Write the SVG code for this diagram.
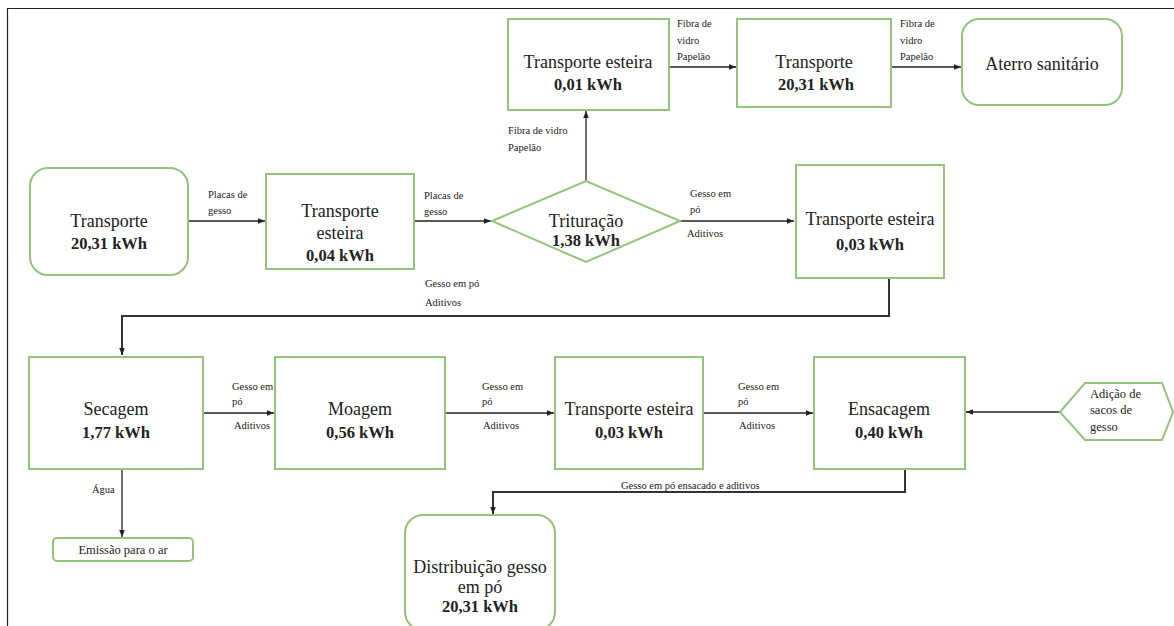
<svg xmlns="http://www.w3.org/2000/svg" width="1174" height="626" viewBox="0 0 1174 626" font-family="Liberation Serif, DejaVu Serif, serif">
  <defs>
    <marker id="arrow" viewBox="0 0 10 10" refX="10" refY="5" markerWidth="7" markerHeight="7" orient="auto-start-reverse" markerUnits="userSpaceOnUse">
      <path d="M0,1 L10,5 L0,9 z" fill="#222"/>
    </marker>
    <style>
      .box { fill: #fff; stroke: #93c47d; stroke-width: 2; }
      .conn { fill: none; stroke: #222; stroke-width: 1.3; }
      .conn-thick { fill: none; stroke: #333; stroke-width: 2; }
      text { fill: #222; }
      .t { font-size: 18px; text-anchor: middle; }
      .b { font-size: 16.5px; font-weight: bold; text-anchor: middle; }
      .lbl { font-size: 10.5px; }
      .small { font-size: 12.5px; }
    </style>
  </defs>

  <rect width="1174" height="626" fill="#fff"/>

  <!-- page frame -->
  <path d="M7.5,626 V8.5 H1174" fill="none" stroke="#222" stroke-width="1.2"/>

  <!-- connectors -->
  <g id="connectors">
    <line class="conn" x1="188" y1="221" x2="265" y2="221" marker-end="url(#arrow)"/>
    <line class="conn" x1="414" y1="221" x2="491" y2="221" marker-end="url(#arrow)"/>
    <line class="conn" x1="586" y1="181" x2="586" y2="111" marker-end="url(#arrow)"/>
    <line class="conn" x1="670" y1="67" x2="736" y2="67" marker-end="url(#arrow)"/>
    <line class="conn" x1="891" y1="67" x2="961" y2="67" marker-end="url(#arrow)"/>
    <line class="conn" x1="680" y1="221" x2="794" y2="221" marker-end="url(#arrow)"/>
    <polyline class="conn-thick" points="889,278 889,316 122,316 122,355" marker-end="url(#arrow)"/>
    <line class="conn" x1="203" y1="413" x2="274" y2="413" marker-end="url(#arrow)"/>
    <line class="conn" x1="445" y1="413" x2="554" y2="413" marker-end="url(#arrow)"/>
    <line class="conn" x1="703" y1="413" x2="813" y2="413" marker-end="url(#arrow)"/>
    <line class="conn" x1="1060" y1="412" x2="966" y2="412" marker-end="url(#arrow)"/>
    <line class="conn" x1="122" y1="469" x2="122" y2="537" marker-end="url(#arrow)"/>
    <polyline class="conn-thick" points="905,469 905,492 493,492 493,514" marker-end="url(#arrow)"/>

    <!-- flow labels -->
    <text class="lbl" x="208" y="198">Placas de</text>
    <text class="lbl" x="208" y="214">gesso</text>
    <text class="lbl" x="424" y="199">Placas de</text>
    <text class="lbl" x="424" y="215">gesso</text>
    <text class="lbl" x="508" y="134">Fibra de vidro</text>
    <text class="lbl" x="508" y="151">Papelão</text>
    <text class="lbl" x="677" y="27">Fibra de</text>
    <text class="lbl" x="677" y="44">vidro</text>
    <text class="lbl" x="677" y="60">Papelão</text>
    <text class="lbl" x="900" y="27">Fibra de</text>
    <text class="lbl" x="900" y="44">vidro</text>
    <text class="lbl" x="900" y="60">Papelão</text>
    <text class="lbl" x="690" y="197">Gesso em</text>
    <text class="lbl" x="690" y="213">pó</text>
    <text class="lbl" x="687" y="237">Aditivos</text>
    <text class="lbl" x="425" y="287">Gesso em pó</text>
    <text class="lbl" x="425" y="306">Aditivos</text>
    <text class="lbl" x="232" y="390">Gesso em</text>
    <text class="lbl" x="232" y="405">pó</text>
    <text class="lbl" x="234" y="429">Aditivos</text>
    <text class="lbl" x="482" y="390">Gesso em</text>
    <text class="lbl" x="482" y="405">pó</text>
    <text class="lbl" x="483" y="429">Aditivos</text>
    <text class="lbl" x="738" y="390">Gesso em</text>
    <text class="lbl" x="738" y="405">pó</text>
    <text class="lbl" x="739" y="429">Aditivos</text>
    <text class="lbl" x="92" y="493">Água</text>
    <text class="lbl" x="621" y="489">Gesso em pó ensacado e aditivos</text>
  </g>

  <!-- top row -->
  <g id="transporte-esteira-1">
    <rect class="box" x="508" y="19" width="161" height="91"/>
    <text class="t" x="588" y="68">Transporte esteira</text>
    <text class="b" x="588" y="90">0,01 kWh</text>
  </g>
  <g id="transporte-2">
    <rect class="box" x="737" y="19" width="154" height="88"/>
    <text class="t" x="814" y="68">Transporte</text>
    <text class="b" x="816" y="90">20,31 kWh</text>
  </g>
  <g id="aterro">
    <rect class="box" x="962" y="19" width="160" height="86" rx="17"/>
    <text class="t" x="1042" y="70">Aterro sanitário</text>
  </g>

  <!-- middle row -->
  <g id="transporte-1">
    <rect class="box" x="30" y="168" width="158" height="107" rx="18"/>
    <text class="t" x="109" y="227">Transporte</text>
    <text class="b" x="109" y="249">20,31 kWh</text>
  </g>
  <g id="transporte-esteira-2">
    <rect class="box" x="266" y="174" width="148" height="95"/>
    <text class="t" x="340" y="217">Transporte</text>
    <text class="t" x="340" y="239">esteira</text>
    <text class="b" x="340" y="261">0,04 kWh</text>
  </g>
  <g id="trituracao">
    <polygon class="box" points="492,221 586,181 680,221 586,262"/>
    <text class="t" x="586" y="227">Trituração</text>
    <text class="b" x="586" y="246">1,38 kWh</text>
  </g>
  <g id="transporte-esteira-3">
    <rect class="box" x="796" y="165" width="148" height="113"/>
    <text class="t" x="870" y="225">Transporte esteira</text>
    <text class="b" x="870" y="250">0,03 kWh</text>
  </g>

  <!-- bottom row -->
  <g id="secagem">
    <rect class="box" x="29" y="357" width="174" height="112"/>
    <text class="t" x="116" y="415">Secagem</text>
    <text class="b" x="116" y="438">1,77 kWh</text>
  </g>
  <g id="moagem">
    <rect class="box" x="275" y="357" width="170" height="112"/>
    <text class="t" x="360" y="415">Moagem</text>
    <text class="b" x="360" y="438">0,56 kWh</text>
  </g>
  <g id="transporte-esteira-4">
    <rect class="box" x="555" y="357" width="148" height="112"/>
    <text class="t" x="629" y="415">Transporte esteira</text>
    <text class="b" x="629" y="438">0,03 kWh</text>
  </g>
  <g id="ensacagem">
    <rect class="box" x="814" y="357" width="151" height="112"/>
    <text class="t" x="889" y="415">Ensacagem</text>
    <text class="b" x="889" y="438">0,40 kWh</text>
  </g>
  <g id="adicao-sacos">
    <polygon class="box" points="1060,412 1085,383 1162,383 1173,412 1162,440 1085,440"/>
    <text class="small" x="1090" y="398">Adição de</text>
    <text class="small" x="1090" y="414">sacos de</text>
    <text class="small" x="1090" y="431">gesso</text>
  </g>
  <g id="emissao">
    <rect class="box" x="53" y="538" width="140" height="23" rx="4"/>
    <text class="small" x="123" y="554" text-anchor="middle">Emissão para o ar</text>
  </g>
  <g id="distribuicao">
    <rect class="box" x="405" y="515" width="150" height="115" rx="18"/>
    <text class="t" x="480" y="573">Distribuição gesso</text>
    <text class="t" x="480" y="593">em pó</text>
    <text class="b" x="480" y="612">20,31 kWh</text>
  </g>
</svg>
